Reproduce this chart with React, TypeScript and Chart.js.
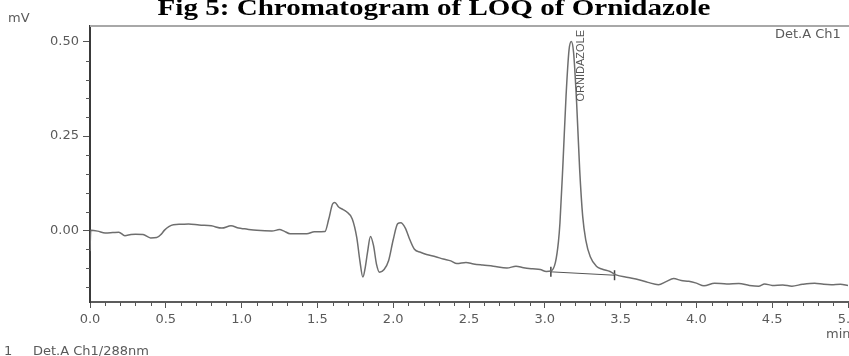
import React, { useEffect, useRef } from 'react';
import { Chart, registerables } from 'chart.js';

Chart.register(...registerables);

const TITLE = 'Fig 5: Chromatogram of LOQ of Ornidazole';
const Y_UNIT = 'mV';
const X_UNIT = 'min';
const DETECTOR_TOP = 'Det.A Ch1';
const DETECTOR_LEGEND = ['1', 'Det.A Ch1/288nm'];
const PEAK_NAME = 'ORNIDAZOLE';
const PEAK_TIME = 3.175;

const xMajorTicks = [0, 0.5, 1.0, 1.5, 2.0, 2.5, 3.0, 3.5, 4.0, 4.5, 5.0];
const yMajorTicks = [0, 0.25, 0.5];

const times = [
  0.0, 0.005, 0.05, 0.1, 0.15, 0.19, 0.23, 0.27, 0.3, 0.35, 0.4, 0.44, 0.47, 0.49,
  0.52, 0.55, 0.6, 0.65, 0.72, 0.8, 0.87, 0.93, 0.98, 1.02, 1.1, 1.2, 1.25, 1.28,
  1.32, 1.43, 1.48, 1.55, 1.575, 1.6, 1.615, 1.64, 1.67, 1.69, 1.73, 1.76, 1.78,
  1.8, 1.815, 1.83, 1.85, 1.87, 1.89, 1.91, 1.94, 1.97, 2.0, 2.03, 2.05, 2.08, 2.11,
  2.14, 2.18, 2.22, 2.28, 2.33, 2.38, 2.42, 2.48, 2.53, 2.59, 2.66, 2.75, 2.81, 2.86,
  2.92, 2.97, 3.01, 3.04, 3.07, 3.09, 3.1, 3.12, 3.14, 3.16, 3.175, 3.19, 3.21, 3.23,
  3.25, 3.27, 3.3, 3.34, 3.38, 3.43, 3.47, 3.55, 3.62, 3.68, 3.75, 3.8, 3.85, 3.9,
  3.95, 4.0, 4.05, 4.12, 4.2, 4.28, 4.35, 4.41, 4.45, 4.5, 4.57, 4.63, 4.7, 4.78,
  4.84, 4.89, 4.95, 5.0,
];

const signal = [
  -0.055, 0.0, -0.002, -0.007, -0.006, -0.005, -0.014, -0.011, -0.01, -0.011, -0.02, -0.019, -0.01, 0.0,
  0.01, 0.015, 0.016, 0.017, 0.014, 0.012, 0.006, 0.012, 0.006, 0.004, 0.0, -0.002, 0.002, -0.002,
  -0.009, -0.009, -0.004, -0.003, 0.03, 0.07, 0.074, 0.062, 0.055, 0.05, 0.03, -0.02, -0.08,
  -0.124, -0.1, -0.06, -0.016, -0.04, -0.09, -0.111, -0.104, -0.08, -0.025, 0.018, 0.02, 0.006, -0.025,
  -0.05, -0.058, -0.064, -0.07, -0.076, -0.081, -0.088, -0.085, -0.089, -0.092, -0.095, -0.1, -0.095, -0.099,
  -0.102, -0.104, -0.109, -0.108, -0.085, -0.03, 0.02, 0.179, 0.355, 0.479, 0.501, 0.471, 0.338, 0.161,
  0.037, -0.025, -0.07, -0.095, -0.103, -0.109, -0.118, -0.125, -0.131, -0.138, -0.144, -0.136, -0.128, -0.133,
  -0.135, -0.14, -0.147, -0.14, -0.142, -0.141, -0.146, -0.148, -0.142, -0.146, -0.145, -0.148, -0.143, -0.14,
  -0.143, -0.144, -0.143, -0.146,
];

const baselineTimes = [3.04, 3.46];
const baselineValues = [-0.11, -0.119];

const X_MIN = 0;
const X_MAX = 5.0;
const Y_MIN = -0.19;
const Y_MAX = 0.542;

const isMajor = (v: number, list: number[]) => list.some((m) => Math.abs(m - v) < 1e-6);

const SMALL_FONT = '"DejaVu Sans", sans-serif';
const TEXT_COLOR = '#5a5a5a';

const extrasPlugin = {
  id: 'extras',
  afterDraw(chart: any) {
    const { ctx, chartArea, scales } = chart;
    const xs = scales.x;
    const ys = scales.y;
    ctx.save();

    // top frame line
    ctx.strokeStyle = '#a8a8a8';
    ctx.lineWidth = 2;
    ctx.beginPath();
    ctx.moveTo(chartArea.left, chartArea.top);
    ctx.lineTo(chart.width, chartArea.top);
    ctx.stroke();

    // minor ticks
    ctx.strokeStyle = '#555';
    ctx.lineWidth = 1;
    xs.ticks.forEach((t: any) => {
      if (isMajor(t.value, xMajorTicks)) return;
      const px = Math.round(xs.getPixelForValue(t.value)) + 0.5;
      ctx.beginPath();
      ctx.moveTo(px, chartArea.bottom);
      ctx.lineTo(px, chartArea.bottom + 4);
      ctx.stroke();
    });
    ys.ticks.forEach((t: any) => {
      if (isMajor(t.value, yMajorTicks)) return;
      const py = Math.round(ys.getPixelForValue(t.value)) + 0.5;
      ctx.beginPath();
      ctx.moveTo(chartArea.left - 4, py);
      ctx.lineTo(chartArea.left, py);
      ctx.stroke();
    });

    // title (stretched horizontally like the scanned figure)
    ctx.fillStyle = '#000';
    ctx.font = 'bold 24px "Liberation Serif", "Times New Roman", serif';
    ctx.textAlign = 'center';
    ctx.textBaseline = 'alphabetic';
    ctx.save();
    ctx.translate(434, 15);
    ctx.scale(1.21, 1);
    ctx.fillText(TITLE, 0, 0);
    ctx.restore();

    ctx.fillStyle = TEXT_COLOR;
    ctx.font = `13px ${SMALL_FONT}`;
    ctx.textAlign = 'left';
    ctx.fillText(Y_UNIT, 8, 22);
    ctx.fillText(DETECTOR_TOP, chartArea.right - 73, chartArea.top + 12);
    ctx.fillText(X_UNIT, chartArea.right - 22, 338);
    ctx.fillText(DETECTOR_LEGEND[0], 4, 355);
    ctx.fillText(DETECTOR_LEGEND[1], 33, 355);

    // peak label
    const pkx = xs.getPixelForValue(PEAK_TIME);
    ctx.font = '11px "Liberation Sans", Arial, sans-serif';
    ctx.fillStyle = '#555';
    ctx.save();
    ctx.translate(pkx + 13, chartArea.top + 4);
    ctx.rotate(-Math.PI / 2);
    ctx.textAlign = 'right';
    ctx.textBaseline = 'alphabetic';
    ctx.fillText(PEAK_NAME, 0, 0);
    ctx.restore();

    ctx.restore();
  },
};

export default function App() {
  const ref = useRef<HTMLCanvasElement | null>(null);

  useEffect(() => {
    if (!ref.current) return;
    const chart = new Chart(ref.current, {
      type: 'line',
      data: {
        datasets: [
          {
            label: 'Det.A Ch1/288nm',
            data: times.map((t, i) => ({ x: t, y: signal[i] })),
            borderColor: '#6e6e6e',
            borderWidth: 1.5,
            pointRadius: 0,
            cubicInterpolationMode: 'monotone',
            fill: false,
          },
          {
            label: 'baseline',
            data: baselineTimes.map((t, i) => ({ x: t, y: baselineValues[i] })),
            borderColor: '#555',
            borderWidth: 1,
            pointRadius: 5,
            pointStyle: 'line',
            rotation: 90,
            pointBorderColor: '#444',
            pointBorderWidth: 1.5,
            fill: false,
          },
        ],
      },
      options: {
        animation: false,
        responsive: false,
        devicePixelRatio: 1,
        layout: { padding: { top: 26, right: 52, left: 0, bottom: 0 } },
        plugins: {
          legend: { display: false },
          title: { display: false },
          tooltip: { enabled: false },
        },
        scales: {
          x: {
            type: 'linear',
            min: X_MIN,
            max: X_MAX,
            afterFit: (s: any) => {
              s.height = 54;
            },
            border: { display: true, color: '#5c5c5c', width: 2 },
            grid: {
              drawOnChartArea: false,
              drawTicks: true,
              tickLength: 6,
              tickWidth: 1,
              tickColor: (c: any) => (c.tick && isMajor(c.tick.value, xMajorTicks) ? '#555' : 'rgba(0,0,0,0)'),
            },
            ticks: {
              stepSize: 0.1,
              maxTicksLimit: 1000,
              autoSkip: false,
              includeBounds: false,
              maxRotation: 0,
              padding: 4,
              color: TEXT_COLOR,
              font: { family: SMALL_FONT, size: 13 },
              callback: (v: any) => (isMajor(Number(v), xMajorTicks) ? Number(v).toFixed(1) : ''),
            },
          },
          y: {
            type: 'linear',
            min: Y_MIN,
            max: Y_MAX,
            afterFit: (s: any) => {
              s.width = 90;
            },
            border: { display: true, color: '#3a3a3a', width: 2 },
            grid: {
              drawOnChartArea: false,
              drawTicks: true,
              tickLength: 7,
              tickWidth: 1,
              tickColor: (c: any) => (c.tick && isMajor(c.tick.value, yMajorTicks) ? '#555' : 'rgba(0,0,0,0)'),
            },
            ticks: {
              stepSize: 0.05,
              maxTicksLimit: 1000,
              autoSkip: false,
              includeBounds: false,
              padding: 4,
              color: TEXT_COLOR,
              font: { family: SMALL_FONT, size: 13 },
              callback: (v: any) => (isMajor(Number(v), yMajorTicks) ? Number(v).toFixed(2) : ''),
            },
          },
        },
      },
      plugins: [extrasPlugin],
    } as any);
    return () => chart.destroy();
  }, []);

  return (
    <div
      style={{
        position: 'fixed',
        left: 0,
        top: 0,
        width: 849,
        height: 356,
        overflow: 'hidden',
        background: '#fff',
      }}
    >
      <canvas ref={ref} width={900} height={356} style={{ width: 900, height: 356, display: 'block' }} />
    </div>
  );
}
